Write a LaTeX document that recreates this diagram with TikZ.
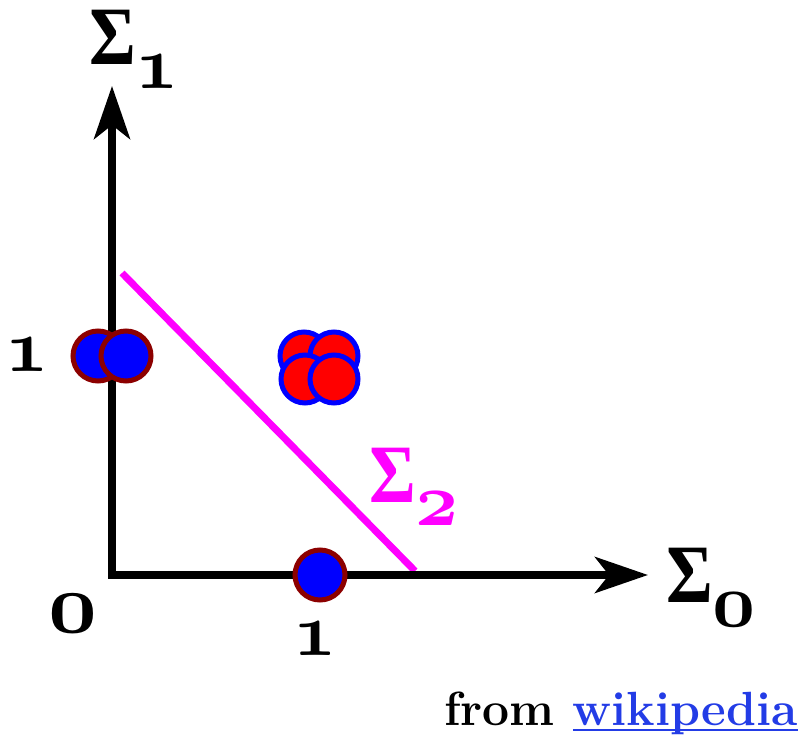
\RequirePackage{fix-cm}
\documentclass[tikz,border=0pt]{standalone}
\usepackage{fontspec}
\usepackage{graphicx}
\usepackage{tikz}
\usetikzlibrary{arrows.meta}
\newfontfamily\sigfont{Liberation Serif}
\definecolor{rimred}{RGB}{140,0,0}
\definecolor{sepmag}{RGB}{255,0,255}
\definecolor{linkblue}{RGB}{35,60,230}
\newcommand{\OsDigit}[1]{\mathchar\numexpr"0130+#1\relax}
\newcommand{\SigGlyph}{\scalebox{0.86}[1]{\sigfont\bfseries\fontsize{83}{83}\selectfont Σ}}
\newcommand{\SigSub}[1]{\lower24pt\hbox{\fontsize{75}{75}\selectfont\boldmath$\OsDigit{#1}$}}
\newcommand{\AxNum}[2]{\hbox{\fontsize{#1}{#1}\selectfont\boldmath$\OsDigit{#2}$}}
\newcommand{\LinkText}[1]{\setbox0\hbox{#1}\rlap{\rule[-6pt]{\wd0}{2.5pt}}\box0}

\begin{document}
\begin{tikzpicture}[x=1pt, y=-1pt, >={Stealth[length=53pt, width=36pt, inset=14pt]},
  axis/.style={line width=7.5pt, <->},
  sig/.style={anchor=base west, inner sep=0, font=\fontsize{80}{80}\selectfont\boldmath},
  bluedot/.style={circle, draw=rimred, fill=blue, line width=5pt, minimum size=50pt, inner sep=0},
  reddot/.style={circle, draw=blue, fill=red, line width=5pt, minimum size=48pt, inner sep=0}]
  \useasboundingbox (0,0) rectangle (804,735);

  % magenta separating line
  \coordinate (L1) at (122,273);
  \coordinate (L2) at (415,571);
  \draw[sepmag, line width=7pt] (L1) -- (L2);

  % axes
  \coordinate (O) at (112,575);
  \coordinate (Ytip) at (112,86);
  \coordinate (Xtip) at (648,575);
  \draw[axis] (Ytip) -- (O) -- (Xtip);

  % points
  \node[bluedot] (b1) at (98,356) {};
  \node[bluedot] (b2) at (126,356) {};
  \node[bluedot] (b3) at (320,575) {};
  \node[reddot] (r1) at (304,356) {};
  \node[reddot] (r2) at (334,356) {};
  \node[reddot] (r3) at (305,379) {};
  \node[reddot] (r4) at (334,379) {};

  % labels
  \node[sig] (S1) at (89,65) {\SigGlyph\SigSub{1}};
  \node[sig] (S0) at (666,602) {\SigGlyph\SigSub{0}};
  \node[sig, text=sepmag] (S2) at (369,502) {\SigGlyph\SigSub{2}};
  \node[anchor=base, inner sep=0] (y1) at (27,372) {\AxNum{75}{1}};
  \node[anchor=base, inner sep=0] (x1) at (315,655) {\AxNum{75}{1}};
  \node[anchor=base, inner sep=0] (o) at (73,632) {\AxNum{85}{0}};
  \node[anchor=base east, inner sep=0, font=\fontsize{48}{48}\selectfont\bfseries] (src)
    at (798,725) {from \textcolor{linkblue}{\LinkText{wikipedia}}};
\end{tikzpicture}
\end{document}
